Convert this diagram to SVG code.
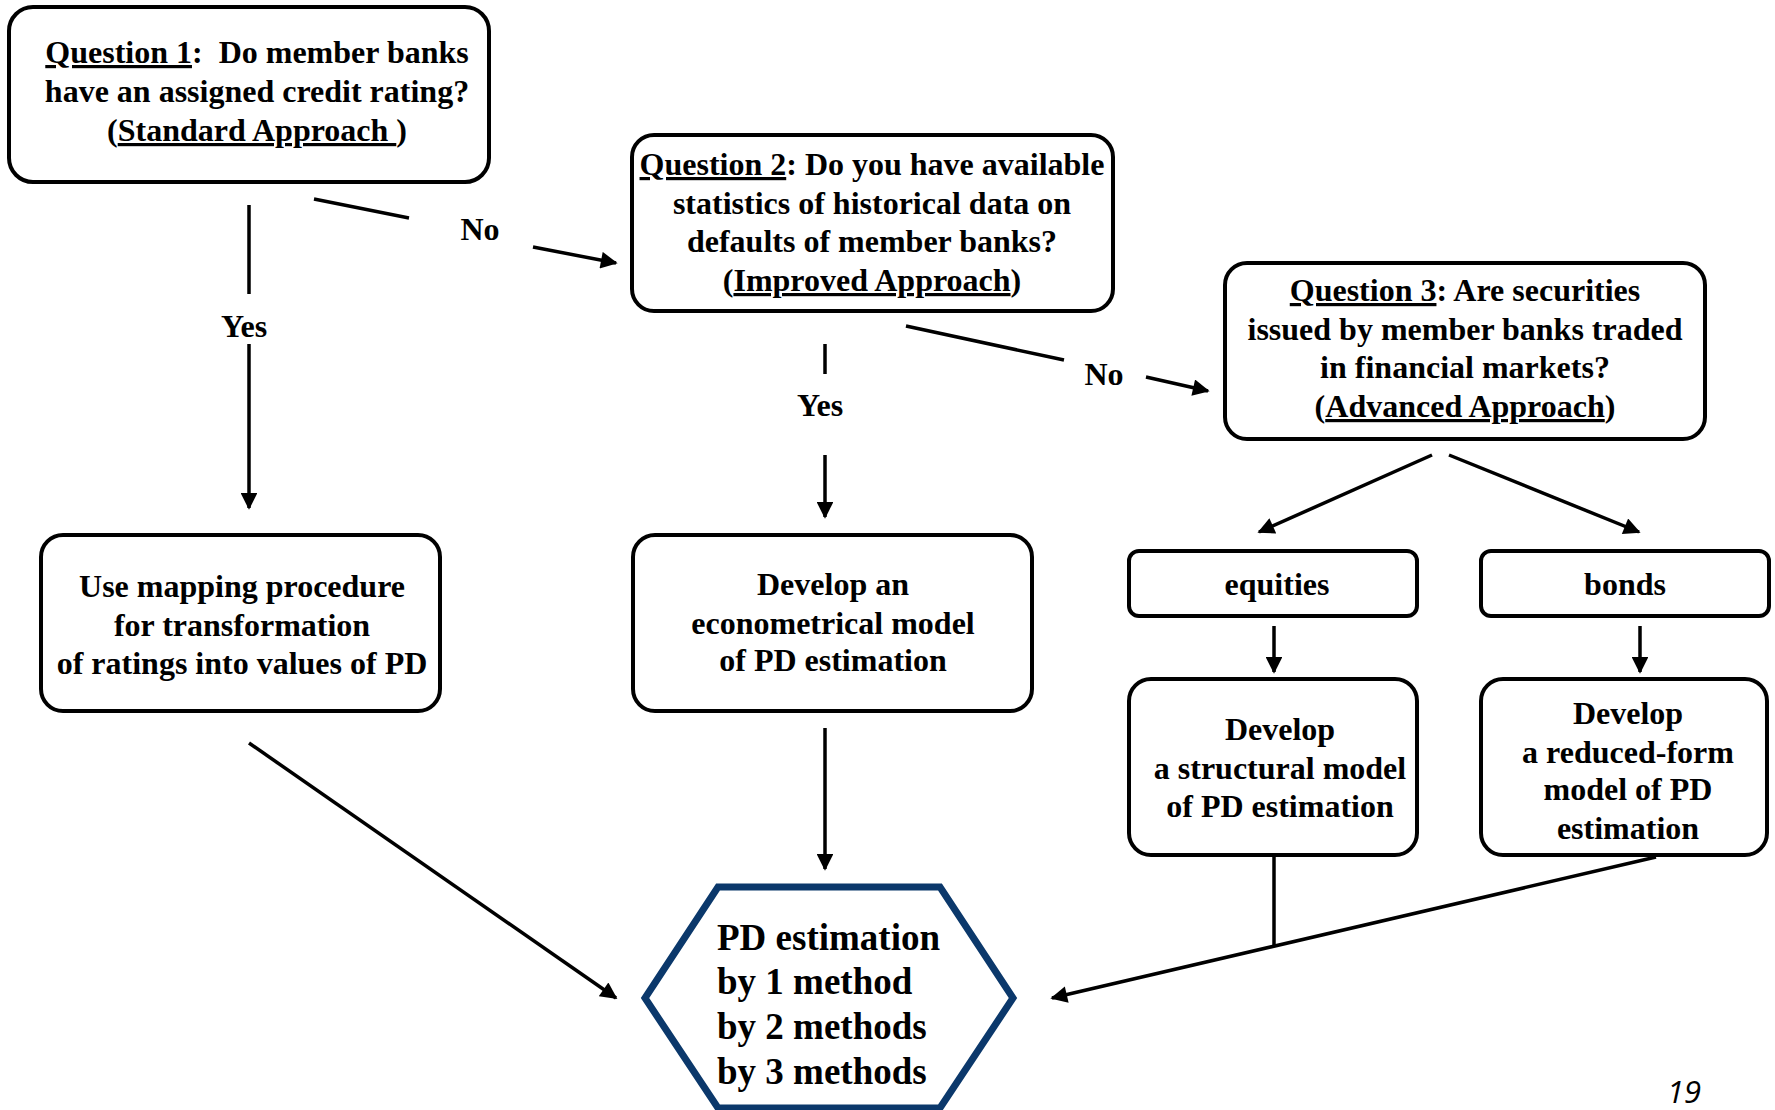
<svg xmlns="http://www.w3.org/2000/svg" width="1775" height="1110" viewBox="0 0 1775 1110">
<defs>
<style>
.box{fill:#fff;stroke:#000;stroke-width:4}
.t{font-family:"Liberation Serif","Times New Roman",serif;font-weight:bold;font-size:32px;fill:#000;text-anchor:middle;white-space:pre}
.hx{font-family:"Liberation Serif","Times New Roman",serif;font-weight:bold;font-size:37px;fill:#000}
.u{text-decoration:underline}
.c{stroke:#000;stroke-width:3.5;fill:none}
.a{stroke:#000;stroke-width:3.5;fill:none;marker-end:url(#ah)}
</style>
<marker id="ah" viewBox="0 0 10 10" refX="9" refY="5" markerWidth="5.5" markerHeight="4.8" markerUnits="strokeWidth" orient="auto">
<path d="M0,0 L10,5 L0,10 z" fill="#000"/>
</marker>
</defs>
<rect width="1775" height="1110" fill="#fff"/>

<g id="connectors">
<line class="c" x1="249" y1="205" x2="249" y2="294"/>
<line class="a" x1="249" y1="344" x2="249" y2="508"/>
<line class="c" x1="314" y1="199" x2="409" y2="218"/>
<line class="a" x1="533" y1="247" x2="616" y2="263"/>
<line class="c" x1="825" y1="344" x2="825" y2="374"/>
<line class="a" x1="825" y1="455" x2="825" y2="517"/>
<line class="c" x1="906" y1="326" x2="1064" y2="360"/>
<line class="a" x1="1146" y1="377" x2="1208" y2="391"/>
<line class="a" x1="1432" y1="455" x2="1259" y2="532"/>
<line class="a" x1="1449" y1="455" x2="1639" y2="532"/>
<line class="a" x1="1274" y1="626" x2="1274" y2="672"/>
<line class="a" x1="1640" y1="626" x2="1640" y2="672"/>
<line class="a" x1="249" y1="743" x2="616" y2="998"/>
<line class="a" x1="825" y1="728" x2="825" y2="869"/>
<line class="c" x1="1274" y1="855" x2="1274" y2="946"/>
<line class="a" x1="1656" y1="857" x2="1052" y2="998"/>
<text class="t" x="480" y="240">No</text>
<text class="t" x="244" y="337">Yes</text>
<text class="t" x="820" y="416">Yes</text>
<text class="t" x="1104" y="385">No</text>
</g>

<g id="q1">
<rect class="box" x="9" y="7" width="480" height="175" rx="24"/>
<text class="t" x="257" y="63"><tspan class="u">Question 1</tspan>:  Do member banks</text>
<text class="t" x="257" y="102">have an assigned credit rating?</text>
<text class="t" x="257" y="141">(<tspan class="u">Standard Approach </tspan>)</text>
</g>

<g id="q2">
<rect class="box" x="632" y="135" width="481" height="176" rx="22"/>
<text class="t" x="872" y="175"><tspan class="u">Question 2</tspan>: Do you have available</text>
<text class="t" x="872" y="214">statistics of historical data on</text>
<text class="t" x="872" y="252">defaults of member banks?</text>
<text class="t" x="872" y="291">(<tspan class="u">Improved Approach</tspan>)</text>
</g>

<g id="q3">
<rect class="box" x="1225" y="263" width="480" height="176" rx="22"/>
<text class="t" x="1465" y="301"><tspan class="u">Question 3</tspan>: Are securities</text>
<text class="t" x="1465" y="340">issued by member banks traded</text>
<text class="t" x="1465" y="378">in financial markets?</text>
<text class="t" x="1465" y="417">(<tspan class="u">Advanced Approach</tspan>)</text>
</g>

<g id="mapping">
<rect class="box" x="41" y="535" width="399" height="176" rx="22"/>
<text class="t" x="242" y="597">Use mapping procedure</text>
<text class="t" x="242" y="636">for transformation</text>
<text class="t" x="242" y="674">of ratings into values of PD</text>
</g>

<g id="econometrical">
<rect class="box" x="633" y="535" width="399" height="176" rx="22"/>
<text class="t" x="833" y="595">Develop an</text>
<text class="t" x="833" y="634">econometrical model</text>
<text class="t" x="833" y="671">of PD estimation</text>
</g>

<g id="equities">
<rect class="box" x="1129" y="551" width="288" height="65" rx="10"/>
<text class="t" x="1277" y="595">equities</text>
</g>

<g id="bonds">
<rect class="box" x="1481" y="551" width="288" height="65" rx="10"/>
<text class="t" x="1625" y="595">bonds</text>
</g>

<g id="structural">
<rect class="box" x="1129" y="679" width="288" height="176" rx="22"/>
<text class="t" x="1280" y="740">Develop</text>
<text class="t" x="1280" y="779">a structural model</text>
<text class="t" x="1280" y="817">of PD estimation</text>
</g>

<g id="reduced">
<rect class="box" x="1481" y="679" width="286" height="176" rx="22"/>
<text class="t" x="1628" y="724">Develop</text>
<text class="t" x="1628" y="763">a reduced-form</text>
<text class="t" x="1628" y="800">model of PD</text>
<text class="t" x="1628" y="839">estimation</text>
</g>

<g id="result">
<polygon points="718,887 940,887 1013,998 940,1108 718,1108 645,998" fill="#fff" stroke="#0b386b" stroke-width="7"/>
<text class="hx" x="717" y="950">PD estimation</text>
<text class="hx" x="717" y="994">by 1 method</text>
<text class="hx" x="717" y="1039">by 2 methods</text>
<text class="hx" x="717" y="1084">by 3 methods</text>
</g>

<text x="1684" y="1103" font-family="'Open Sans','Noto Sans',sans-serif" font-style="italic" font-size="31" text-anchor="middle" fill="#000">19</text>
</svg>
